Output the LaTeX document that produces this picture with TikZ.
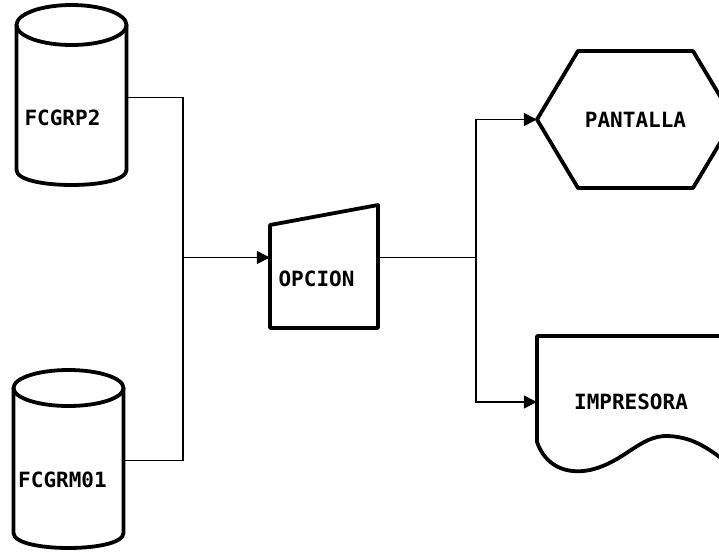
\documentclass[tikz,border=0pt]{standalone}
\usepackage{fontspec}
\newfontfamily\diagfont{DejaVu Sans Mono}
\usetikzlibrary{arrows.meta,positioning,calc}
\tikzset{
  dsym/.style={inner sep=0pt,font=\diagfont\bfseries\fontsize{21}{21}\selectfont},
  dout/.style={line width=3.8pt,line join=round,draw=black},
  dline/.style={line width=1.3pt,draw=black},
  darr/.style={-{Triangle[length=13pt,width=13pt]},line width=1.3pt,draw=black}
}

\begin{document}
\begin{tikzpicture}[x=1pt,y=-1pt]
  \useasboundingbox (0,0) rectangle (719,552);
  % files
  \node[dsym,minimum width=110pt,minimum height=145pt] (grp) at (71.5,97.5) {};
  \draw[dout] (16.5,25) -- (16.5,170) .. controls (16.5,190) and (126.5,190) .. (126.5,170) -- (126.5,25);
  \draw[dout] (71.5,25) ellipse [x radius=55, y radius=20];
  \node[dsym] (grptxt) at (62.5,118) {FCGRP2};
  \node[dsym,minimum width=110pt,minimum height=145pt] (grm) at (68.5,460.5) {};
  \draw[dout] (13.5,388) -- (13.5,533) .. controls (13.5,553) and (123.5,553) .. (123.5,533) -- (123.5,388);
  \draw[dout] (68.5,388) ellipse [x radius=55, y radius=18];
  \node[dsym] (grmtxt) at (62.5,480) {FCGRM01};
  % manual input
  \node[dsym,minimum width=108pt,minimum height=141pt] (opc) at (324,257.5) {};
  \draw[dout] (270,225) -- (378,205) -- (378,328) -- (270,328) -- cycle;
  \node[dsym] (opctxt) at (316.5,279) {OPCION};
  % outputs
  \node[dsym,minimum width=197pt,minimum height=137pt] (pan) at (635.5,119.5) {PANTALLA};
  \draw[dout] (537,119.5) -- (578,51) -- (693,51) -- (734,119.5) -- (693,188) -- (578,188) -- cycle;
  \node[dsym,minimum width=188pt,minimum height=132pt] (imp) at (631,402) {IMPRESORA};
  \draw[dout] (760,336) -- (537,336) -- (537,442)
    .. controls (545,465) and (565,475) .. (590,470)
    .. controls (625,462) and (640,435) .. (668,436)
    .. controls (690,437) and (705,445) .. (730,465);
  % connectors
  \coordinate (jin) at (183,257.5);
  \coordinate (jout) at (476,257.5);
  \draw[dline] (grp.east) -| (jin);
  \draw[dline] (grm.east) -| (jin);
  \draw[darr] (jin) -- (opc.west);
  \draw[dline] (opc.east) -- (jout);
  \draw[darr] (jout) |- (pan.west);
  \draw[darr] (jout) |- (imp.west);
\end{tikzpicture}
\end{document}
